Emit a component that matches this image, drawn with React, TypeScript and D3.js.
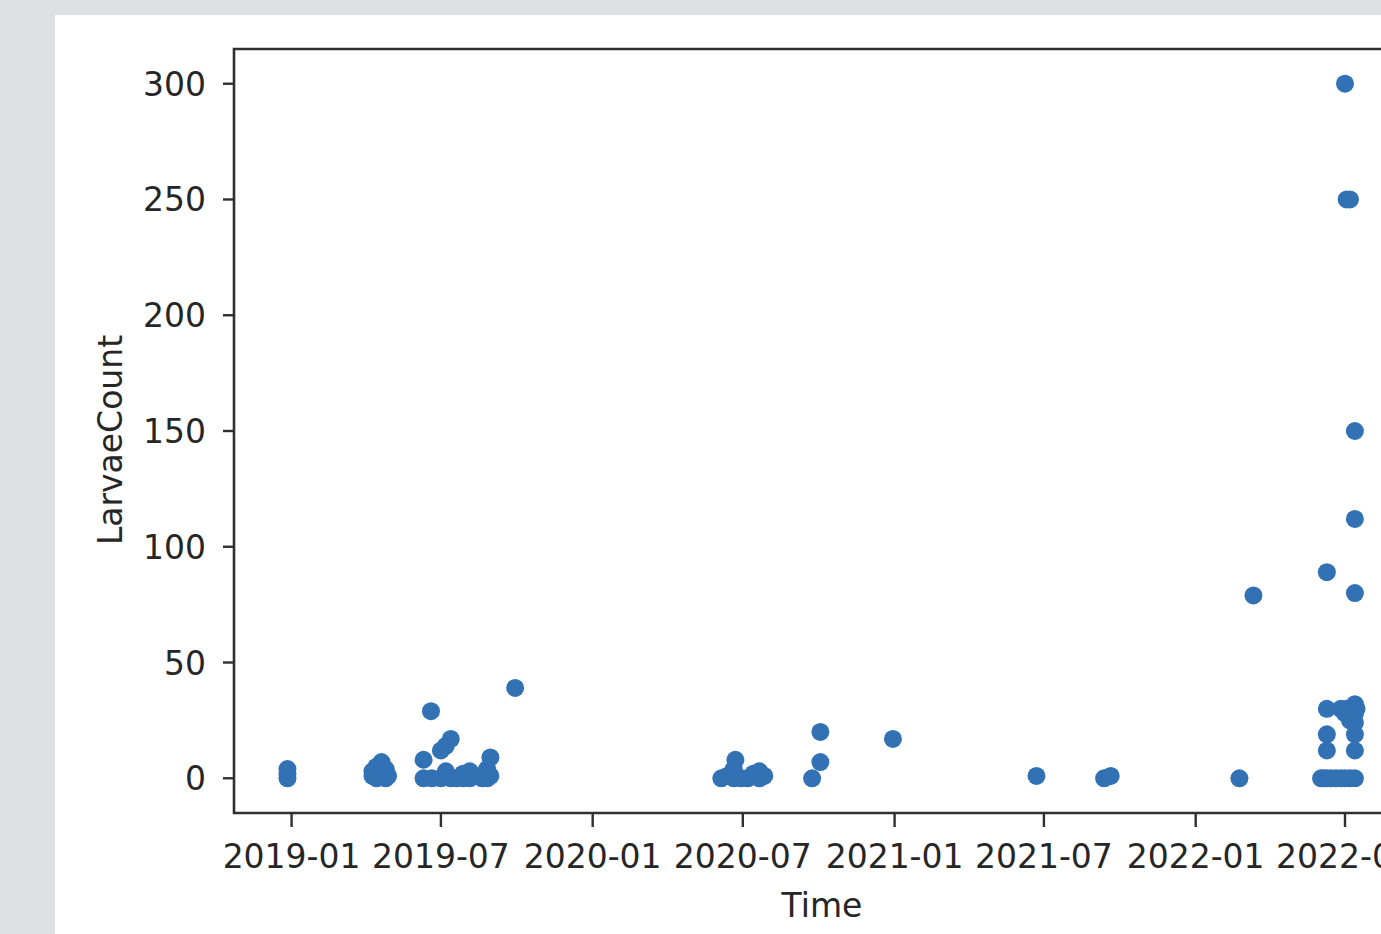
import React from "react";
import * as d3 from "d3";

const dates: string[] = [
  "2018-12-27", "2018-12-27", "2018-12-27",
  "2019-04-09", "2019-04-09", "2019-04-14", "2019-04-14", "2019-04-20", "2019-04-20", "2019-04-25", "2019-04-25", "2019-04-28",
  "2019-06-10", "2019-06-10", "2019-06-19", "2019-06-20",
  "2019-07-01", "2019-07-01", "2019-07-07", "2019-07-07", "2019-07-13", "2019-07-13",
  "2019-07-20", "2019-07-28", "2019-07-28", "2019-08-05", "2019-08-05", "2019-08-13",
  "2019-08-20", "2019-08-26", "2019-08-26", "2019-08-30", "2019-08-30",
  "2019-09-29",
  "2020-06-05", "2020-06-12", "2020-06-20", "2020-06-20", "2020-06-22", "2020-06-29", "2020-07-07",
  "2020-07-14", "2020-07-21", "2020-07-21", "2020-07-27",
  "2020-09-23", "2020-10-03", "2020-10-03",
  "2020-12-30",
  "2021-06-22", "2021-09-12", "2021-09-20",
  "2022-02-23", "2022-03-12",
  "2022-06-02", "2022-06-05",
  "2022-06-09", "2022-06-09", "2022-06-09", "2022-06-09", "2022-06-09",
  "2022-06-14", "2022-06-20", "2022-06-26", "2022-06-26",
  "2022-07-01", "2022-07-01", "2022-07-01",
  "2022-07-03", "2022-07-03",
  "2022-07-07", "2022-07-07", "2022-07-07",
  "2022-07-13", "2022-07-13", "2022-07-13", "2022-07-13", "2022-07-13", "2022-07-13", "2022-07-13", "2022-07-13", "2022-07-13",
  "2022-07-15",
];
const counts: number[] = [
  0, 2, 4,
  1, 3, 0, 5, 2, 7, 0, 4, 1,
  0, 8, 29, 0,
  12, 0, 14, 3, 17, 0,
  0, 0, 2, 0, 3, 1,
  0, 0, 4, 9, 1,
  39,
  0, 1, 0, 4, 8, 0, 0,
  2, 0, 3, 1,
  0, 7, 20,
  17,
  1, 0, 1,
  0, 79,
  0, 0,
  0, 12, 19, 30, 89,
  0, 0, 0, 30,
  300, 0, 28,
  250, 30,
  250, 25, 0,
  150, 112, 80, 32, 28, 24, 19, 12, 0,
  30,
];
const yTicks: number[] = [0, 50, 100, 150, 200, 250, 300];

const W = 1381;
const H = 934;
const left = 234;
const right = 1410;
const top = 49;
const bottom = 813;
const font = "DejaVu Sans";
const fs = 33;
const textColor = "#262626";

export default function App() {
  const parse = d3.timeParse("%Y-%m-%d");
  const pts = dates.map((d, i) => ({ t: parse(d) as Date, v: counts[i] }));
  const [tMin, tMax] = d3.extent(pts, (p) => p.t) as [Date, Date];
  const span = +tMax - +tMin;
  const x = d3
    .scaleTime()
    .domain([new Date(+tMin - span * 0.05), new Date(+tMax + span * 0.05)])
    .range([left, right]);
  const vMax = d3.max(counts) as number;
  const y = d3
    .scaleLinear()
    .domain([-vMax * 0.05, vMax * 1.05])
    .range([bottom, top]);
  const xTicks = x.ticks(d3.timeMonth.every(6) as d3.TimeInterval);
  const fmt = d3.timeFormat("%Y-%m");

  return (
    <svg
      width={W}
      height={H}
      style={{ position: "absolute", left: 0, top: 0, display: "block" }}
    >
      <rect x={0} y={0} width={W} height={H} fill="#dde1e3" />
      <rect x={55} y={15} width={W - 55} height={H - 15} fill="#ffffff" />

      {pts.map((p, i) => (
        <circle key={i} cx={x(p.t)} cy={y(p.v)} r={9} fill="#3171b4" />
      ))}

      {/* spines */}
      <path
        d={`M${right},${top}H${left}V${bottom}H${right}`}
        fill="none"
        stroke="#303030"
        strokeWidth={2.6}
      />

      {/* x ticks */}
      {xTicks.map((t, i) => (
        <g key={i}>
          <line x1={x(t)} x2={x(t)} y1={bottom} y2={bottom + 14} stroke="#303030" strokeWidth={2.4} />
          <text
            x={x(t)}
            y={868}
            textAnchor="middle"
            fontFamily={font}
            fontSize={fs}
            fill={textColor}
          >
            {fmt(t)}
          </text>
        </g>
      ))}

      {/* y ticks */}
      {yTicks.map((v, i) => (
        <g key={i}>
          <line x1={left - 11} x2={left} y1={y(v)} y2={y(v)} stroke="#303030" strokeWidth={2.4} />
          <text
            x={206}
            y={y(v) + 12}
            textAnchor="end"
            fontFamily={font}
            fontSize={fs}
            fill={textColor}
          >
            {v}
          </text>
        </g>
      ))}

      <text
        x={(left + right) / 2}
        y={917}
        textAnchor="middle"
        fontFamily={font}
        fontSize={fs}
        fill={textColor}
      >
        Time
      </text>
      <text
        transform={`translate(122,440) rotate(-90)`}
        textAnchor="middle"
        fontFamily={font}
        fontSize={fs}
        fill={textColor}
      >
        LarvaeCount
      </text>
    </svg>
  );
}
